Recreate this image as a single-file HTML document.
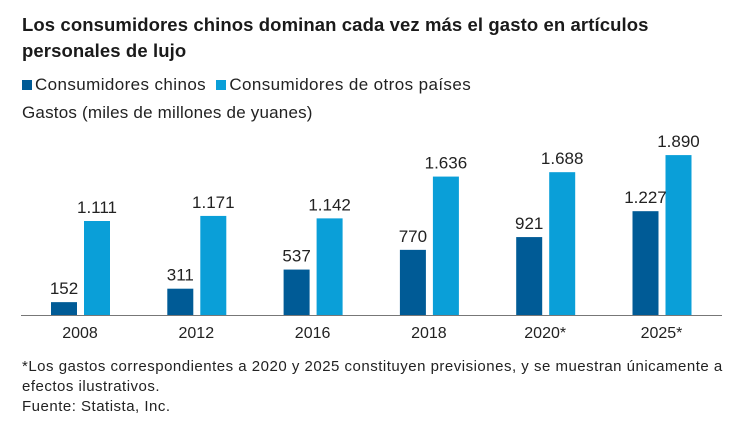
<!DOCTYPE html>
<html><head><meta charset="utf-8"><style>
body{margin:0;width:752px;height:430px;background:#fff;font-family:"Liberation Sans",sans-serif;color:#222;overflow:hidden;position:relative}
.t{position:absolute;left:22px;top:12px;font-size:18.5px;font-weight:bold;line-height:26px;color:#1a1a1a;letter-spacing:0.1px}
.lg{position:absolute;top:75px;left:22px;font-size:17px;letter-spacing:0.4px}
.sw{display:inline-block;width:10px;height:10px;margin-right:3px}
.yl{position:absolute;left:22px;top:103px;font-size:17px;letter-spacing:0.2px}
.fn{position:absolute;left:22px;top:357px;font-size:15px;line-height:20px;letter-spacing:0.5px}
</style></head><body>
<div class="t">Los consumidores chinos dominan cada vez más el gasto en artículos<br>personales de lujo</div>
<div class="lg"><span><span class="sw" style="background:#005b96"></span>Consumidores chinos</span>&nbsp;&nbsp;<span><span class="sw" style="background:#0a9fd8"></span>Consumidores de otros países</span></div>
<div class="yl">Gastos (miles de millones de yuanes)</div>
<svg id="c" width="752" height="430" style="position:absolute;left:0;top:0"></svg>
<div class="fn">*Los gastos correspondientes a 2020 y 2025 constituyen previsiones, y se muestran únicamente a<br>efectos ilustrativos.<br>Fuente: Statista, Inc.</div>
<script>
const categories=["2008","2012","2016","2018","2020*","2025*"];
const chinos=[152,311,537,770,921,1227];
const otros=[1111,1171,1142,1636,1688,1890];
const labelsChinos=["152","311","537","770","921","1.227"];
const labelsOtros=["1.111","1.171","1.142","1.636","1.688","1.890"];
const svg=document.getElementById('c');
const NS='http://www.w3.org/2000/svg';
const base=315,k=94/1111;
const y=v=>base-v*k;
const gx=i=>51+i*116.3;
function mk(t,a){const e=document.createElementNS(NS,t);for(const q in a)e.setAttribute(q,a[q]);svg.appendChild(e);return e;}
categories.forEach((c,i)=>{
 const x=gx(i);
 let b=mk('rect',{x:x,y:y(chinos[i]),width:26,height:chinos[i]*k,fill:'#005b96'});
 
 
 b=mk('rect',{x:x+33,y:y(otros[i]),width:26,height:otros[i]*k,fill:'#0a9fd8'});
 
 
 let t=mk('text',{x:x+13,y:y(chinos[i])-8,'text-anchor':'middle','font-size':17,fill:'#222'});t.textContent=labelsChinos[i];
 
 
 t=mk('text',{x:x+46,y:y(otros[i])-8,'text-anchor':'middle','font-size':17,fill:'#222'});t.textContent=labelsOtros[i];
 
 
 t=mk('text',{x:x+29,y:338,'text-anchor':'middle','font-size':16,fill:'#222'});t.textContent=c;
 
 
});
const ax=mk('line',{x1:21,x2:722,y1:base+0.5,y2:base+0.5,stroke:'#777','stroke-width':1});


</script>
</body></html>
